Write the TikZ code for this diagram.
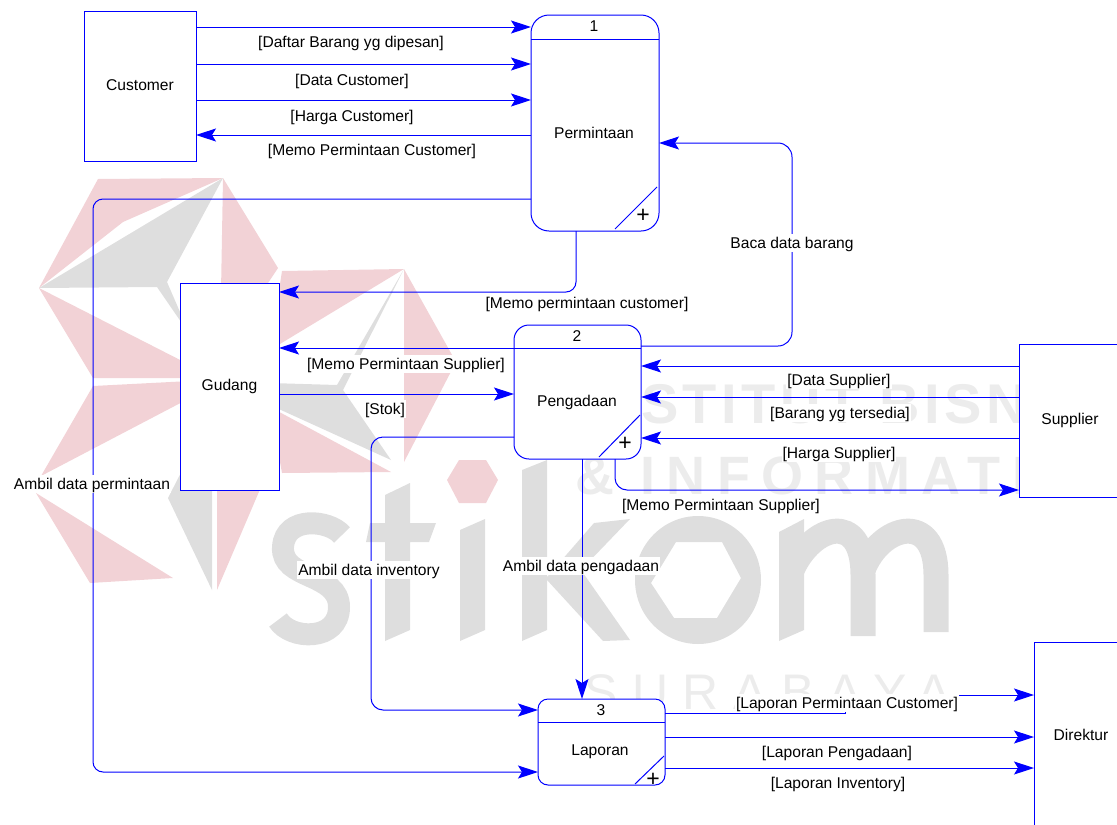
\documentclass[tikz,border=0pt]{standalone}
\usepackage{fontspec}
\setmainfont{Liberation Sans}
\newfontfamily\wmfonta[LetterSpace=8]{Liberation Sans}
\newfontfamily\wmfontb[LetterSpace=21]{Liberation Sans}
\newfontfamily\wmfontc[LetterSpace=29]{Liberation Sans}
\usetikzlibrary{arrows.meta}
\definecolor{flow}{RGB}{0,0,255}
\definecolor{wmred}{RGB}{242,210,214}
\definecolor{wmgrey}{RGB}{222,222,222}
\definecolor{wmtext}{RGB}{236,236,236}
\tikzset{
  lbl/.style={fill=white,inner xsep=1pt,inner ysep=1.5pt,text height=13pt,text depth=2pt,font=\fontsize{15.6}{18}\selectfont,text=black},
  plain/.style={inner sep=0pt,font=\fontsize{15.6}{18}\selectfont,text=black},
  plus/.style={inner sep=0pt,font=\fontsize{23}{23}\selectfont,text=black},
  extbox/.style={draw=flow,fill=white,line width=1pt,rectangle,outer sep=0pt,inner sep=0pt,font=\fontsize{15.6}{18}\selectfont,text=black},
  procbox/.style={draw=flow,fill=white,line width=1pt,rectangle,outer sep=0pt,inner sep=0pt},
  inner line/.style={draw=flow,line width=1pt},
  flowline/.style={draw=flow,line width=1pt,-{Stealth[length=20pt,width=13pt,inset=4pt,flow]}},
  plainline/.style={draw=flow,line width=1pt},
  r/.style={fill=wmred,draw=none},
  g/.style={fill=wmgrey,draw=none},
}
\begin{document}
\begin{tikzpicture}[x=1pt,y=-1pt]
\useasboundingbox (0,0) rectangle (1117,825);
% watermark logo
\fill[r] (98,179)--(223,178)--(123,222)--(39,288)--cycle;
\fill[r] (223,178)--(278,268)--(262,292)--(221,292)--cycle;
\fill[g] (223,178)--(39,288)--(157,287)--(190,335)--(167,282)--cycle;
\fill[r] (39,288)--(190,365)--(190,378)--(93,378)--cycle;
\fill[r] (93,386)--(190,381)--(190,398)--(41,476)--cycle;
\fill[r] (36,493)--(173,578)--(90,583)--cycle;
\fill[g] (190,455)--(168,498)--(212,590)--(212,480)--cycle;
\fill[r] (217,480)--(264,480)--(217,590)--cycle;
\fill[r] (282,271)--(404,269)--(270,350)--cycle;
\fill[r] (404,269)--(456,362)--(404,462)--cycle;
\fill[g] (404,269)--(337,385)--(270,383)--(270,405)--(391,460)--(343,390)--cycle;
\fill[r] (270,407)--(391,472)--(282,473)--cycle;
\fill[r] (459,460)--(486,460)--(498,480)--(486,503)--(459,503)--(447,480)--cycle;
% watermark word
\draw[wmgrey,line width=22pt] (342,535) .. controls (330,520) and (285,515) .. (283,547) .. controls (281,580) and (339,572) .. (339,607) .. controls (339,642) and (290,640) .. (278,620);
\fill[g] (385,495)--(410,483)--(410,523)--(436,523)--(429,542)--(410,542)--(410,630)--(385,641)--(385,542)--(366,542)--(370,523)--(385,523)--cycle;
\fill[g] (460,530)--(485,519)--(485,630)--(460,641)--cycle;
\fill[g] (522,470)--(547,460)--(547,630)--(522,641)--cycle;
\fill[g] (547,577)--(594,523)--(630,519)--(581,570)--(630,640)--(603,641)--(547,580)--cycle;
\fill[g,even odd rule] (698,580) ellipse [x radius=63,y radius=64] (676,542)--(722,542)--(741,578)--(717,618)--(674,618)--(651,583)--cycle;
\fill[g] (779,532)--(804,519)--(804,630)--(779,641)--cycle;
\draw[wmgrey,line width=25pt] (792,570) .. controls (812,525) and (863,510) .. (863,575) -- (863,636);
\draw[wmgrey,line width=25pt] (863,570) .. controls (880,525) and (936,510) .. (936,575) -- (936,632);
\node[anchor=base west,inner sep=0pt,text=wmtext] (wm1) at (576,423) {\wmfonta\bfseries\fontsize{56}{60}\selectfont INSTITUT BISNIS};
\node[anchor=base west,inner sep=0pt,text=wmtext] (wm2) at (575,494) {\wmfontb\bfseries\fontsize{54}{60}\selectfont \&\ INFORMATIKA};
\node[anchor=base west,inner sep=0pt,text=wmtext] (wm3) at (584,709) {\wmfontc\fontsize{50}{60}\selectfont SURABAYA};
% external entities
\node[extbox,minimum width=112pt,minimum height=150pt] (cust) at (140,86) {\raisebox{2pt}{Customer}};
\node[extbox,minimum width=99pt,minimum height=207pt] (gud) at (229.5,386.5) {Gudang};
\node[extbox,minimum width=102pt,minimum height=153pt] (sup) at (1070,420.5) {Supplier};
\node[extbox,minimum width=94pt,minimum height=186pt] (dir) at (1081,735) {Direktur};
% processes
\node[procbox,rounded corners=18pt,minimum width=128pt,minimum height=216pt] (p1) at (595,123) {};
\node[procbox,rounded corners=15pt,minimum width=127pt,minimum height=134pt] (p2) at (577.5,392) {};
\node[procbox,rounded corners=10pt,minimum width=127pt,minimum height=86pt] (p3) at (601.5,742) {};
\draw[inner line] (p1.west |- 0,39) -- (p1.east |- 0,39);
\draw[inner line] (p2.west |- 0,348) -- (p2.east |- 0,348);
\draw[inner line] (p3.west |- 0,722) -- (p3.east |- 0,722);
\draw[inner line] (657,187) -- (615,229);
\draw[inner line] (640,415) -- (599,457);
\draw[inner line] (664,756) -- (635,784);
\node[plain] (n1) at (594,26) {1};
\node[plain] (t1) at (594,133) {Permintaan};
\node[plus] (x1) at (643,216) {+};
\node[plain] (n2) at (577,336) {2};
\node[plain] (t2) at (577,402) {Pengadaan};
\node[plus] (x2) at (625,444) {+};
\node[plain] (n3) at (601,710) {3};
\node[plain] (t3) at (600,752) {Laporan};
\node[plus] (x3) at (653,780) {+};
% connectors
\draw[flowline] (cust.east |- 0,27) -- (p1.west |- 0,27);
\draw[flowline] (cust.east |- 0,64) -- (p1.west |- 0,64);
\draw[flowline] (cust.east |- 0,100) -- (p1.west |- 0,100);
\draw[flowline] (p1.west |- 0,135) -- (cust.east |- 0,135);
\draw[flowline,rounded corners=10pt] (p1.south -| 576,0) -- (576,292) -- (gud.east |- 0,292);
\draw[flowline,rounded corners=10pt] (p1.west |- 0,199) -- (93,199) -- (93,772) -- (p3.west |- 0,772);
\draw[flowline,rounded corners=14pt] (p2.east |- 0,346) -- (792,346) -- (792,143) -- (p1.east |- 0,143);
\draw[flowline] (p2.west |- 0,348) -- (gud.east |- 0,348);
\draw[flowline] (gud.east |- 0,394) -- (p2.west |- 0,394);
\draw[flowline,rounded corners=12pt] (p2.west |- 0,437) -- (371,437) -- (371,710) -- (p3.west |- 0,710);
\draw[flowline] (p2.south -| 582,0) -- (p3.north -| 582,0);
\draw[flowline,rounded corners=12pt] (p2.south -| 615,0) -- (615,490) -- (sup.west |- 0,490);
\draw[flowline] (sup.west |- 0,366) -- (p2.east |- 0,366);
\draw[flowline] (sup.west |- 0,397) -- (p2.east |- 0,397);
\draw[flowline] (sup.west |- 0,438) -- (p2.east |- 0,438);
\draw[flowline] (p3.east |- 0,713) -- (845,713) -- (845,695) -- (dir.west |- 0,695);
\draw[flowline] (p3.east |- 0,737) -- (dir.west |- 0,737);
\draw[flowline] (p3.east |- 0,768) -- (dir.west |- 0,768);
% labels
\node[lbl] (l1) at (351,42) {[Daftar Barang yg dipesan]};
\node[lbl] (l2) at (352,80) {[Data Customer]};
\node[lbl] (l3) at (352,116) {[Harga Customer]};
\node[lbl] (l4) at (372,150) {[Memo Permintaan Customer]};
\node[lbl] (l5) at (792,243) {Baca data barang};
\node[lbl] (l6) at (587,303) {[Memo permintaan customer]};
\node[lbl] (l7) at (406,364) {[Memo Permintaan Supplier]};
\node[lbl] (l8) at (385,409) {[Stok]};
\node[lbl] (l9) at (92,484) {Ambil data permintaan};
\node[lbl] (l10) at (839,380) {[Data Supplier]};
\node[lbl] (l11) at (840,413) {[Barang yg tersedia]};
\node[lbl] (l12) at (839,453) {[Harga Supplier]};
\node[lbl] (l13) at (721,505) {[Memo Permintaan Supplier]};
\node[lbl] (l14) at (369,570) {Ambil data inventory};
\node[lbl] (l15) at (581,566) {Ambil data pengadaan};
\node[lbl] (l16) at (847,703) {[Laporan Permintaan Customer]};
\node[lbl] (l17) at (837,752) {[Laporan Pengadaan]};
\node[lbl] (l18) at (838,783) {[Laporan Inventory]};
\end{tikzpicture}
\end{document}
